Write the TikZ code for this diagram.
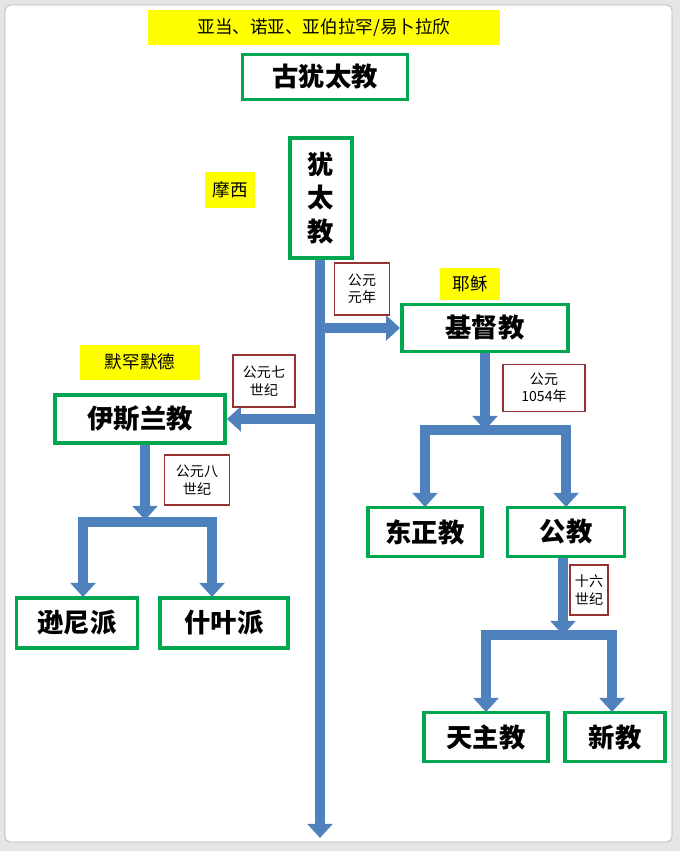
\documentclass[tikz,border=0pt]{standalone}
\usepackage{fontspec}
\newfontfamily\cjk{Noto Sans CJK SC}
\usetikzlibrary{arrows.meta,positioning}
\definecolor{flowblue}{RGB}{79,129,189}
\definecolor{boxgreen}{RGB}{0,166,80}
\definecolor{tagred}{RGB}{150,50,50}
\definecolor{hiyellow}{RGB}{255,255,0}
\tikzset{
	religion/.style={draw=boxgreen, line width=2.2pt, fill=white, font=\cjk\bfseries\fontsize{15}{17}\selectfont, inner sep=0pt},
	era/.style={draw=tagred, line width=0.6pt, fill=white, font=\cjk\fontsize{8}{10}\selectfont, align=center, inner sep=0pt},
	person/.style={fill=hiyellow, font=\cjk\fontsize{10}{12}\selectfont, inner sep=0pt},
	flow/.style={draw=flowblue, line width=6pt, -{Triangle[length=8pt,width=14pt]}},
}
\begin{document}
\begin{tikzpicture}[x=0.02cm,y=-0.02cm]
	\useasboundingbox (0,0) rectangle (680,851);
	\fill[gray!20] (0,0) rectangle (680,851);
	\draw[gray!60, fill=white, rounded corners=3pt] (5,5) rectangle (672,842);
	% people and ages
	\node[person, minimum width=352*0.02cm, minimum height=35*0.02cm] (adam) at (324,28) {亚当、诺亚、亚伯拉罕/易卜拉欣};
	\node[person, minimum width=50*0.02cm, minimum height=35*0.02cm] (moses) at (230,190) {摩西};
	\node[person, minimum width=60*0.02cm, minimum height=32*0.02cm] (jesus) at (470,284) {耶稣};
	\node[person, minimum width=120*0.02cm, minimum height=35*0.02cm] (muhammad) at (140,362) {默罕默德};
	% main trunk
	\coordinate (top) at (320,258);
	\coordinate (bottom) at (320,838);
	\draw[flow] (top) -- (bottom);
	\coordinate (rightout) at (325,328);
	\coordinate (leftout) at (315,419);
	% religions
	\node[religion, minimum width=165*0.02cm, minimum height=45*0.02cm] (ancient) at (325,77) {古犹太教};
	\node[religion, minimum width=62*0.02cm, minimum height=120*0.02cm, align=center] (judaism) at (321,198) {犹\\[2pt]太\\[2pt]教};
	\node[religion, minimum width=166*0.02cm, minimum height=47*0.02cm] (christ) at (485,328) {基督教};
	\node[religion, minimum width=114*0.02cm, minimum height=49*0.02cm] (orthodox) at (425,532) {东正教};
	\node[religion, minimum width=117*0.02cm, minimum height=49*0.02cm] (public) at (566,532) {公教};
	\node[religion, minimum width=124*0.02cm, minimum height=49*0.02cm] (catholic) at (486,737) {天主教};
	\node[religion, minimum width=100*0.02cm, minimum height=49*0.02cm] (protest) at (615,737) {新教};
	\node[religion, minimum width=170*0.02cm, minimum height=48*0.02cm] (islam) at (140,419) {伊斯兰教};
	\node[religion, minimum width=121*0.02cm, minimum height=50*0.02cm] (sunni) at (77,623) {逊尼派};
	\node[religion, minimum width=128*0.02cm, minimum height=50*0.02cm] (shia) at (224,623) {什叶派};
	% branches
	\draw[flow] (rightout) -- (christ.west);
	\draw[flow] (leftout) -- (islam.east);
	\coordinate (xsplit) at (485,430);
	\draw[flow] (christ.south) -- (xsplit);
	\draw[flow] (485,430) -| (425,507);
	\draw[flow] (485,430) -| (566,507);
	\coordinate (psplit) at (563,635);
	\draw[flow] (public.south -| psplit) -- (psplit);
	\draw[flow] (563,635) -| (486,712);
	\draw[flow] (563,635) -| (612,712);
	\coordinate (isplit) at (145,520);
	\draw[flow] (islam.south -| isplit) -- (isplit);
	\draw[flow] (145,522) -| (83,597);
	\draw[flow] (145,522) -| (212,597);
	% dates
	\node[era, minimum width=55*0.02cm, minimum height=52*0.02cm] (year1) at (362,289) {公元\\元年};
	\node[era, minimum width=82*0.02cm, minimum height=47*0.02cm] (y1054) at (544,388) {公元\\1054年};
	\node[era, minimum width=38*0.02cm, minimum height=50*0.02cm] (c16) at (589,590) {十六\\世纪};
	\node[era, minimum width=62*0.02cm, minimum height=52*0.02cm] (c7) at (264,381) {公元七\\世纪};
	\node[era, minimum width=65*0.02cm, minimum height=50*0.02cm] (c8) at (197,480) {公元八\\世纪};
\end{tikzpicture}
\end{document}
